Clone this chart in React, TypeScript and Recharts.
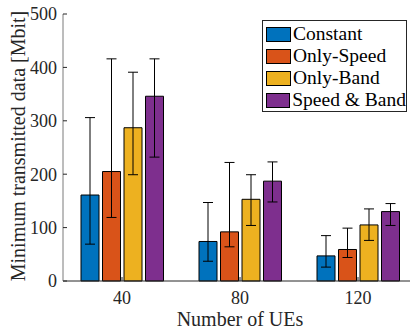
import React from 'react';
import { BarChart, Bar, XAxis, YAxis, ErrorBar, Legend } from 'recharts';

const categories = ['40', '80', '120'];

const constantVals = [161, 74, 47];
const constantLow = [69, 37, 26];
const constantHigh = [306, 147, 85];

const onlySpeedVals = [205, 92, 59];
const onlySpeedLow = [119, 64, 44];
const onlySpeedHigh = [416, 222, 99];

const onlyBandVals = [287, 153, 105];
const onlyBandLow = [199, 104, 76];
const onlyBandHigh = [391, 199, 135];

const speedBandVals = [346, 187, 130];
const speedBandLow = [232, 148, 104];
const speedBandHigh = [416, 223, 145];

const yTicks = [0, 100, 200, 300, 400, 500];

const series = [
    { key: 'constant', name: 'Constant', color: '#0072BD', vals: constantVals, low: constantLow, high: constantHigh },
    { key: 'onlySpeed', name: 'Only-Speed', color: '#D95319', vals: onlySpeedVals, low: onlySpeedLow, high: onlySpeedHigh },
    { key: 'onlyBand', name: 'Only-Band', color: '#EDB120', vals: onlyBandVals, low: onlyBandLow, high: onlyBandHigh },
    { key: 'speedBand', name: 'Speed & Band', color: '#7E2F8E', vals: speedBandVals, low: speedBandLow, high: speedBandHigh },
];

const data = categories.map((ues, i) => {
    const row: Record<string, any> = { ues };
    series.forEach((s) => {
        row[s.key] = s.vals[i];
        row[s.key + 'Err'] = [s.vals[i] - s.low[i], s.high[i] - s.vals[i]];
    });
    return row;
});

const FONT = "'Liberation Serif', 'Times New Roman', serif";

const renderLegend = () => (
    <div
        style={{
            width: 143,
            height: 88,
            border: '1px solid #262626',
            background: '#fff',
            fontFamily: FONT,
            fontSize: 19.5,
            color: '#000',
            boxSizing: 'content-box',
            paddingTop: 2,
        }}
    >
        {series.map((s) => (
            <div key={s.key} style={{ display: 'flex', alignItems: 'center', height: 22, paddingLeft: 3 }}>
                <span
                    style={{
                        display: 'inline-block',
                        width: 23,
                        height: 13,
                        background: s.color,
                        border: '1px solid #000',
                        marginRight: 2,
                    }}
                />
                <span style={{ lineHeight: '22px', whiteSpace: 'nowrap', fontFamily: FONT }}>{s.name}</span>
            </div>
        ))}
    </div>
);

const YLabel = () => (
    <text
        x={25}
        y={146}
        transform="rotate(-90, 25, 146)"
        textAnchor="middle"
        style={{ fontFamily: FONT, fontSize: 20 }}
        fill="#262626"
    >
        Minimum transmitted data [Mbit]
    </text>
);

const App = () => {
    return (
        <div
            style={{
                position: 'absolute',
                left: 0,
                top: 0,
                width: 410,
                height: 329,
                overflow: 'hidden',
                background: '#fff',
                fontFamily: FONT,
            }}
        >
            <BarChart
                width={420}
                height={329}
                data={data}
                margin={{ top: 14, right: 3, bottom: 0, left: 0 }}
                barCategoryGap={18}
                barGap={3.5}
                style={{ fontFamily: FONT }}
            >
                <XAxis
                    dataKey="ues"
                    height={48}
                    interval={0}
                    axisLine={{ stroke: '#262626', strokeWidth: 1 }}
                    tickLine={{ stroke: '#262626' }}
                    tickSize={-4}
                    tickMargin={14}
                    tick={{ fill: '#262626', fontSize: 18, style: { fontFamily: FONT } }}
                    label={{
                        value: 'Number of UEs',
                        position: 'insideBottom',
                        offset: 3,
                        fill: '#262626',
                        fontSize: 20,
                        style: { fontFamily: FONT },
                    }}
                />
                <YAxis
                    width={63}
                    domain={[0, 500]}
                    ticks={yTicks}
                    interval={0}
                    axisLine={{ stroke: '#7a7a7a', strokeWidth: 1 }}
                    tickLine={{ stroke: '#262626' }}
                    tickSize={-4}
                    tickMargin={10}
                    tick={{ fill: '#262626', fontSize: 18, style: { fontFamily: FONT } }}
                    label={<YLabel />}
                />
                <Legend
                    layout="vertical"
                    align="center"
                    verticalAlign="middle"
                    content={renderLegend}
                    wrapperStyle={{ left: 262, top: 20, width: 'auto', fontFamily: FONT }}
                />
                {series.map((s) => (
                    <Bar
                        key={s.key}
                        dataKey={s.key}
                        name={s.name}
                        fill={s.color}
                        stroke="#000"
                        strokeWidth={1}
                        isAnimationActive={false}
                    >
                        <ErrorBar dataKey={s.key + 'Err'} width={5} stroke="#000" strokeWidth={1} direction="y" />
                    </Bar>
                ))}
            </BarChart>
        </div>
    );
};

export default App;
